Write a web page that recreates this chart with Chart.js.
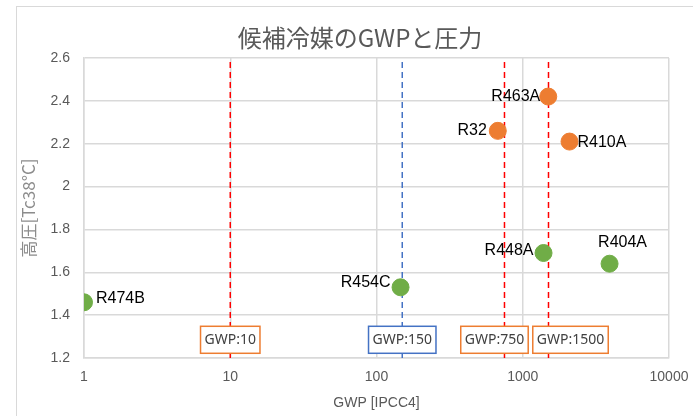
<!DOCTYPE html>
<html>
<head>
<meta charset="utf-8">
<script src="https://cdn.jsdelivr.net/npm/chart.js@4"></script>
<style>
  body { margin: 0; background: #fff; }
  #wrap { position: relative; width: 693px; height: 416px; overflow: hidden; }
  #frame { position: absolute; left: 16px; top: 6px; width: 720px; height: 440px; border: 1px solid #d9d9d9; }
  canvas { position: absolute; left: 0; top: 0; }
</style>
</head>
<body>
<div id="wrap">
  <div id="frame"></div>
  <canvas id="gwpChart" width="693" height="416"></canvas>
</div>
<script>
// 冷媒データ (GWP, 高圧)
var greenNames = ['R474B', 'R454C', 'R448A', 'R404A'];
var greenGwp   = [1, 146, 1387, 3922];
var greenPress = [1.46, 1.53, 1.69, 1.64];

var orangeNames = ['R32', 'R463A', 'R410A'];
var orangeGwp   = [675, 1494, 2088];
var orangePress = [2.26, 2.42, 2.21];

// GWP規制ライン
var limitGwp    = [10, 150, 750, 1500];
var limitLabels = ['GWP:10', 'GWP:150', 'GWP:750', 'GWP:1500'];
var limitColors = ['#ff0000', '#4472c4', '#ff0000', '#ff0000'];

var xTicks = [1, 10, 100, 1000, 10000];
var yMin = 1.2, yMax = 2.6;

function points(xs, ys) {
    return xs.map(function (x, i) { return { x: x, y: ys[i] }; });
}

var datasets = [
    {
        label: 'green', data: points(greenGwp, greenPress), names: greenNames,
        backgroundColor: '#70ad47', borderColor: '#70ad47', pointRadius: 8.5, order: 0
    },
    {
        label: 'orange', data: points(orangeGwp, orangePress), names: orangeNames,
        backgroundColor: '#ed7d31', borderColor: '#ed7d31', pointRadius: 8.5, order: 0
    }
];
limitGwp.forEach(function (g, i) {
    datasets.push({
        label: limitLabels[i],
        data: [{ x: g, y: yMin }, { x: g, y: yMax }],
        showLine: true, pointRadius: 0, borderWidth: 1.5,
        borderColor: limitColors[i], borderDash: [6, 4], order: 1
    });
});

// ラベルの位置 (点からのずれ)
var labelPlace = {
    R474B: ['left', 12, -4], R454C: ['right', -10, -5], R448A: ['right', -10, -2],
    R404A: ['center', 13, -21], R32: ['right', -11, 0], R463A: ['right', -8, 0],
    R410A: ['left', 8, 1]
};
var boxShift = [0, 0, -10, 22];

var extras = {
    id: 'extras',
    afterDatasetsDraw: function (chart) {
        var ctx = chart.ctx;
        var xs = chart.scales.x, ys = chart.scales.y;
        ctx.save();
        // タイトル
        ctx.fillStyle = '#595959';
        ctx.font = '24px "Noto Sans CJK JP"';
        ctx.textAlign = 'center';
        ctx.textBaseline = 'middle';
        ctx.fillText('候補冷媒のGWPと圧力', 360, 38);

        // 規制ラインのボックス
        ctx.font = '14px "Noto Sans", sans-serif';
        limitGwp.forEach(function (g, i) {
            var cx = xs.getPixelForValue(g) + boxShift[i];
            var cy = ys.getPixelForValue(1.285);
            var w = ctx.measureText(limitLabels[i]).width + 8;
            ctx.fillStyle = '#fff';
            ctx.fillRect(cx - w / 2, cy - 13.5, w, 27);
            ctx.strokeStyle = limitColors[i] === '#4472c4' ? '#4472c4' : '#ed7d31';
            ctx.lineWidth = 1.5;
            ctx.strokeRect(cx - w / 2, cy - 13.5, w, 27);
            ctx.fillStyle = '#404040';
            ctx.fillText(limitLabels[i], cx, cy);
        });

        // 冷媒名
        ctx.font = '16px "Liberation Sans", sans-serif';
        ctx.fillStyle = '#000';
        [0, 1].forEach(function (di) {
            var meta = chart.getDatasetMeta(di);
            var names = chart.data.datasets[di].names;
            meta.data.forEach(function (pt, j) {
                var p = labelPlace[names[j]];
                ctx.textAlign = p[0];
                ctx.fillText(names[j], pt.x + p[1], pt.y + p[2]);
            });
        });
        ctx.restore();
    }
};

var ctx = document.getElementById('gwpChart').getContext('2d');
var gwpChart = new Chart(ctx, {
    type: 'scatter',
    data: { datasets: datasets },
    options: {
        responsive: false,
        animation: false,
        layout: { padding: { top: 58, right: 24, left: 0, bottom: 0 } },
        plugins: {
            legend: { display: false },
            tooltip: { enabled: false }
        },
        scales: {
            x: {
                type: 'logarithmic',
                min: 1, max: 10000,
                afterBuildTicks: function (scale) {
                    scale.ticks = xTicks.map(function (v) { return { value: v }; });
                },
                afterFit: function (scale) {
                    scale.height = 58;
                    scale.paddingRight = 0;
                    scale.paddingLeft = 0;
                },
                ticks: {
                    color: '#595959', font: { size: 14 }, padding: 11, maxRotation: 0,
                    callback: function (v) { return String(v); }
                },
                grid: { color: '#d9d9d9', lineWidth: 1.5, drawTicks: false },
                border: { color: '#d9d9d9', width: 1.5 },
                title: {
                    display: true, text: 'GWP [IPCC4]', color: '#595959',
                    font: { size: 14 }, padding: { top: 0, bottom: 4 }
                }
            },
            y: {
                min: yMin, max: yMax,
                afterFit: function (scale) { scale.width = 84; },
                ticks: {
                    stepSize: 0.2, color: '#595959', font: { size: 14 }, padding: 14,
                    callback: function (v) { return Math.round(v * 10) / 10; }
                },
                grid: { color: '#d9d9d9', lineWidth: 1.5, drawTicks: false },
                border: { color: '#d9d9d9', width: 1.5 },
                title: {
                    display: true, text: '高圧[Tc38°C]', color: '#8c8c8c',
                    font: { size: 17, family: '"Noto Sans CJK JP"' }, padding: { top: 18, bottom: 0 }
                }
            }
        }
    },
    plugins: [extras]
});
</script>
</body>
</html>
